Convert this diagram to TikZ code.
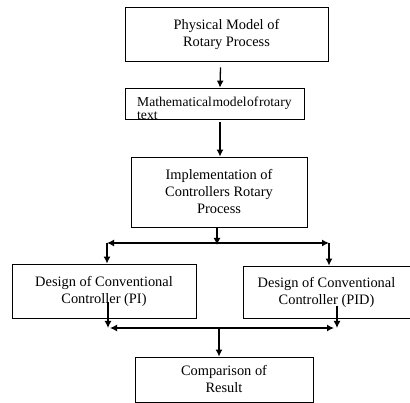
\documentclass[tikz,border=0pt]{standalone}
\usepackage{fontspec}
\setmainfont{Liberation Serif}
\usetikzlibrary{arrows.meta}
\begin{document}
\begin{tikzpicture}[x=1pt, y=-1pt,
  blk/.style={draw, line width=.8pt, align=center, inner sep=0pt,
    font=\fontsize{14.4}{17}\selectfont},
  arr/.style={line width=1.3pt, -{Latex[length=7pt,width=7pt]}},
  both/.style={line width=1.3pt, {Latex[length=7pt,width=7pt]}-{Latex[length=7pt,width=7pt]}}]
  \useasboundingbox (0, 0) rectangle (410, 403);
  \node[blk, minimum width=203pt, minimum height=54pt] (phys) at (226.5, 34) {Physical Model of\\Rotary Process};
  \node[blk, minimum width=179pt, minimum height=31pt] (math) at (214.5, 103.5) {};
  \begin{scope}
    \clip (math.south west) rectangle (math.north east);
    \node[anchor=north west, inner sep=0pt, align=left,
      font=\fontsize{13.6}{13.5}\selectfont] (mathtxt) at (137, 96.5) {Mathematical\hspace{.6pt}model\hspace{.6pt}of\hspace{.6pt}rotary\\text};
  \end{scope}
  \node[blk, minimum width=176pt, minimum height=70pt] (impl) at (219, 192) {Implementation of\\Controllers Rotary\\Process};
  \node[blk, minimum width=184pt, minimum height=54pt] (pi) at (104, 291) {Design of Conventional\\Controller (PI)};
  \node[blk, minimum width=167pt, minimum height=52pt] (pid) at (326.5, 292) {Design of Conventional\\Controller (PID)};
  \node[blk, minimum width=178pt, minimum height=45pt] (comp) at (224, 379.5) {Comparison of\\Result};
  % split and join lines
  \coordinate (split) at (217, 245);
  \coordinate (splitL) at (107, 243);
  \coordinate (splitR) at (329, 243);
  \coordinate (piout) at (108, 302);
  \coordinate (pidout) at (337, 306);
  \coordinate (joinL) at (110, 328);
  \coordinate (joinR) at (334, 328);
  \coordinate (join) at (219, 328);
  \draw[arr] (phys.south) ++(-6, 6) -- (math.north -| 220, 0);
  \draw[arr] (220, 122) -- (impl.north -| 220, 0);
  \draw[arr] (impl.south -| split) -- (split);
  \draw[both] (splitL) -- (splitR);
  \draw[arr] (splitL) -- (pi.north -| splitL);
  \draw[arr] (splitR) -- (pid.north -| splitR);
  \draw[arr] (piout) -- (piout |- joinL);
  \draw[arr] (pidout) -- (pidout |- joinR);
  \draw[both] (joinL) -- (joinR);
  \draw[arr] (join) -- (comp.north -| join);
\end{tikzpicture}
\end{document}
